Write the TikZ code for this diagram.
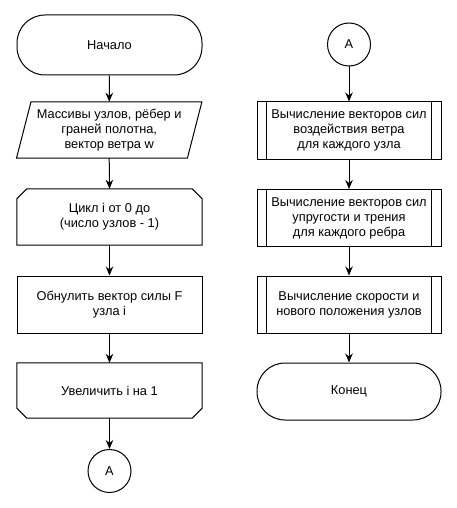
\documentclass[tikz,border=0pt]{standalone}
\usepackage{fontspec}
\setmainfont{Liberation Sans}
\usetikzlibrary{arrows.meta}
\begin{document}
\begin{tikzpicture}[x=1pt,y=-1pt,
  ln/.style={line width=1pt},
  box/.style={minimum width=185pt, minimum height=57pt, inner sep=0pt, align=center,
    font=\fontsize{12.8}{15}\selectfont},
  term/.style={box, ln, draw, rounded corners=28pt},
  proc/.style={box, ln, draw},
  conn/.style={circle, ln, draw, minimum size=43pt, inner sep=0pt, font=\fontsize{12.8}{15}\selectfont},
  arr/.style={ln, -{Stealth[length=9pt,width=7.5pt]}}
]
\useasboundingbox (0,0) rectangle (457,508);

% left column
\node[term, minimum height=60pt] (start) at (109.5,45) {Начало};
\node[box, minimum height=56pt] (io) at (109.2,130) {Массивы узлов, рёбер и\\граней полотна,\\вектор ветра w};
\draw[ln] ([xshift=14.5pt]io.north west) -- (io.north east) -- ([xshift=-14.5pt]io.south east) -- (io.south west) -- cycle;
\node[box, minimum height=56pt] (loopa) at (109.5,217) {Цикл i от 0 до\\(число узлов - 1)};
\draw[ln] ([shift={(0,10)}]loopa.north west) -- ([shift={(10,0)}]loopa.north west) -- ([shift={(-10,0)}]loopa.north east) -- ([shift={(0,10)}]loopa.north east) -- (loopa.south east) -- (loopa.south west) -- cycle;
\node[proc] (zero) at (109.5,304.5) {Обнулить вектор силы F\\узла i};
\node[box, minimum height=55pt] (loopb) at (109.5,390.5) {Увеличить i на 1};
\draw[ln] (loopb.north west) -- (loopb.north east) -- ([shift={(0,-10)}]loopb.south east) -- ([shift={(-10,0)}]loopb.south east) -- ([shift={(10,0)}]loopb.south west) -- ([shift={(0,-10)}]loopb.south west) -- cycle;
\node[conn] (ca) at (109.5,471) {A};

% right column
\node[conn] (cb) at (349,44.5) {A};
\node[proc, minimum width=184pt] (p1) at (349,130.5) {Вычисление векторов сил\\воздействия ветра\\для каждого узла};
\node[proc, minimum width=184pt] (p2) at (349,218) {Вычисление векторов сил\\упругости и трения\\для каждого ребра};
\node[proc, minimum width=184pt] (p3) at (349,304.5) {Вычисление скорости и\\нового положения узлов};
\node[term, minimum width=184pt, minimum height=57pt] (stop) at (349,391.5) {Конец};
\foreach \n in {p1,p2,p3}{
  \draw[ln] ([xshift=10pt]\n.north west) -- ([xshift=10pt]\n.south west);
  \draw[ln] ([xshift=-10pt]\n.north east) -- ([xshift=-10pt]\n.south east);
}

% connectors
\draw[arr] (start.south) -- (io.north);
\draw[arr] (io.south) -- (loopa.north);
\draw[arr] (loopa.south) -- (zero.north);
\draw[arr] (zero.south) -- (loopb.north);
\draw[arr] (loopb.south) -- (ca.north);
\draw[arr] (cb.south) -- (p1.north);
\draw[arr] (p1.south) -- (p2.north);
\draw[arr] (p2.south) -- (p3.north);
\draw[arr] (p3.south) -- (stop.north);
\end{tikzpicture}
\end{document}
